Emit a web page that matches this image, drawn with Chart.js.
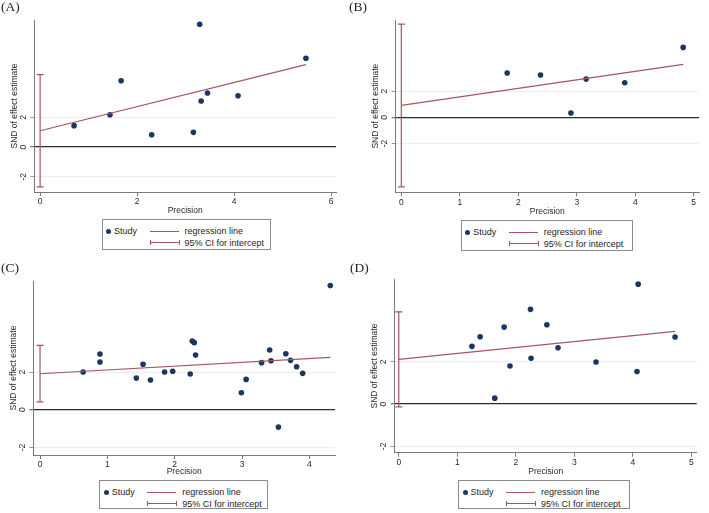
<!DOCTYPE html>
<html>
<head>
<meta charset="utf-8">
<script src="https://cdn.jsdelivr.net/npm/chart.js@4.4.0/dist/chart.umd.min.js"></script>
<style>
  body { margin: 0; background: #fff; width: 709px; height: 513px; position: relative; overflow: hidden;
         font-family: "Liberation Sans", Arial, sans-serif; }
  .panel { position: absolute; }
  .panel canvas { position: absolute; left: 0; top: 0; }
  .tag { position: absolute; font-family: "Liberation Serif", "Times New Roman", serif; font-size: 13.5px;
         color: #222; line-height: 14px; }
  .legend { position: absolute; box-sizing: border-box; border: 1px solid #8c8c8c; background: #fff;
            font-size: 9px; color: #1e1e1e; }
  .legend span { position: absolute; white-space: nowrap; line-height: 10px; }
  .legend .dot { position: absolute; width: 5px; height: 5px; border-radius: 50%; background: #1c3563; }
  .legend .ln { position: absolute; height: 0; border-top: 1.2px solid #a65563; }
  .legend .ci { position: absolute; height: 5px; box-sizing: border-box; border-left: 1.2px solid #a65563;
                border-right: 1.2px solid #a65563; }
  .legend .ci::after { content: ""; position: absolute; left: 0; right: 0; top: 2px; border-top: 1.2px solid #a65563; }
</style>
</head>
<body>
<script>
const yTicks = [-2, 0, 2];

// (A)
const precisionA = [0.70, 1.44, 1.67, 2.30, 3.16, 3.29, 3.32, 3.45, 4.08, 5.48];
const sndA = [1.44, 2.18, 4.47, 0.83, 0.99, 8.27, 3.10, 3.64, 3.46, 5.98];
const regXA = [0, 5.48];
const regYA = [1.10, 5.55];
const ciA = [-2.68, 4.88];
const xTicksA = [0, 2, 4, 6];

// (B)
const precisionB = [1.81, 2.38, 2.90, 3.16, 3.82, 4.82];
const sndB = [3.38, 3.23, 0.33, 2.92, 2.64, 5.34];
const regXB = [0, 4.82];
const regYB = [0.92, 4.05];
const ciB = [-5.30, 7.12];
const xTicksB = [0, 1, 2, 3, 4, 5];

// (C)
const precisionC = [0.64, 0.89, 0.89, 1.43, 1.53, 1.64, 1.85, 1.97, 2.23, 2.26, 2.29, 2.31,
                    2.99, 3.06, 3.29, 3.41, 3.43, 3.54, 3.65, 3.72, 3.81, 3.90, 4.31];
const sndC = [2.00, 2.96, 2.53, 1.68, 2.41, 1.58, 2.00, 2.04, 1.90, 3.65, 3.56, 2.90,
              0.90, 1.61, 2.50, 3.17, 2.60, -0.92, 2.97, 2.62, 2.28, 1.93, 6.59];
const regXC = [0, 4.31];
const regYC = [1.91, 2.78];
const ciC = [0.42, 3.42];
const xTicksC = [0, 1, 2, 3, 4];

// (D)
const precisionD = [1.25, 1.39, 1.64, 1.80, 1.90, 2.25, 2.26, 2.53, 2.72, 3.37, 4.07, 4.09, 4.72];
const sndD = [2.73, 3.18, 0.28, 3.64, 1.80, 4.48, 2.17, 3.75, 2.66, 1.99, 1.54, 5.67, 3.17];
const regXD = [0, 4.72];
const regYD = [2.11, 3.44];
const ciD = [-0.13, 4.36];
const xTicksD = [0, 1, 2, 3, 4, 5];

const legendLabels = ['Study', 'regression line', '95% CI for intercept'];

// --- layout of the 2x2 grid (panel box, plot area, tag and legend box) ---
const panels = [
  { tag: '(A)', x: precisionA, y: sndA, regX: regXA, regY: regYA, ci: ciA, xTicks: xTicksA,
    xRange: [-0.12, 6.1], yRange: [-3.03, 8.56],
    left: 0, top: 0, w: 354, h: 216, plot: { l: 34.3, r: 336, t: 20, b: 192 },
    tagPos: [1, 0], legend: { l: 101.5, t: 219, w: 169, h: 31 } },
  { tag: '(B)', x: precisionB, y: sndB, regX: regXB, regY: regYB, ci: ciB, xTicks: xTicksB,
    xRange: [-0.096, 5.09], yRange: [-5.72, 7.43],
    left: 354, top: 0, w: 355, h: 217, plot: { l: 41.7, r: 345, t: 20, b: 192.3 },
    tagPos: [-5, 0], legend: { l: 106.7, t: 220, w: 172.6, h: 30.7 } },
  { tag: '(C)', x: precisionC, y: sndC, regX: regXC, regY: regYC, ci: ciC, xTicks: xTicksC,
    xRange: [-0.1, 4.38], yRange: [-2.4, 6.83],
    left: 0, top: 256, w: 354, h: 221, plot: { l: 33.3, r: 335, t: 25, b: 199 },
    tagPos: [1, 4.5], legend: { l: 99.3, t: 224, w: 169, h: 29.3 } },
  { tag: '(D)', x: precisionD, y: sndD, regX: regXD, regY: regYD, ci: ciD, xTicks: xTicksD,
    xRange: [-0.07, 5.09], yRange: [-2.3, 5.9],
    left: 354, top: 256, w: 355, h: 221, plot: { l: 40.7, r: 342.7, t: 23.3, b: 196.7 },
    tagPos: [-4, 4.5], legend: { l: 104, t: 224, w: 172, h: 29.3 } }
];

const NAVY = '#1c3563';
const ROSE = '#a65563';
const AXIS = '#7a7a7a';
const FONT = '"Liberation Sans", Arial, sans-serif';
const titleFont = { family: FONT, size: 8.5, lineHeight: 1.2 };

Chart.defaults.font.family = FONT;
Chart.defaults.color = '#2a2a2a';

function buildLegend(wrap, box) {
    const lg = document.createElement('div');
    lg.className = 'legend';
    lg.style.left = box.l + 'px';
    lg.style.top = box.t + 'px';
    lg.style.width = box.w + 'px';
    lg.style.height = box.h + 'px';
    lg.innerHTML =
        '<div class="dot" style="left:3.5px;top:8.5px"></div>' +
        '<span style="left:11.5px;top:6px">' + legendLabels[0] + '</span>' +
        '<div class="ln" style="left:47px;top:10.5px;width:29px"></div>' +
        '<span style="left:82px;top:6px">' + legendLabels[1] + '</span>' +
        '<div class="ci" style="left:47px;top:20px;width:30px"></div>' +
        '<span style="left:82px;top:18px">' + legendLabels[2] + '</span>';
    wrap.appendChild(lg);
}

function initPanel(p) {
    const wrap = document.createElement('div');
    wrap.className = 'panel';
    wrap.style.left = p.left + 'px';
    wrap.style.top = p.top + 'px';
    wrap.style.width = p.w + 'px';
    wrap.style.height = '257px';
    document.body.appendChild(wrap);

    const canvas = document.createElement('canvas');
    canvas.width = p.w;
    canvas.height = p.h;
    wrap.appendChild(canvas);

    const tag = document.createElement('div');
    tag.className = 'tag';
    tag.textContent = p.tag;
    tag.style.left = p.tagPos[0] + 'px';
    tag.style.top = p.tagPos[1] + 'px';
    wrap.appendChild(tag);

    buildLegend(wrap, p.legend);

    const halfLine = titleFont.size * titleFont.lineHeight / 2;

    new Chart(canvas, {
        type: 'scatter',
        data: {
            datasets: [
                {
                    // 95% CI for intercept, drawn at precision 0 with flat caps
                    type: 'line',
                    data: p.ci.map(v => ({ x: 0, y: v })),
                    borderColor: ROSE,
                    borderWidth: 1.2,
                    pointStyle: 'line',
                    pointRadius: 3.5,
                    pointBorderColor: ROSE,
                    pointBorderWidth: 1.2,
                    fill: false
                },
                {
                    type: 'line',
                    data: p.regX.map((v, i) => ({ x: v, y: p.regY[i] })),
                    borderColor: ROSE,
                    borderWidth: 1.2,
                    pointRadius: 0,
                    fill: false
                },
                {
                    data: p.x.map((v, i) => ({ x: v, y: p.y[i] })),
                    backgroundColor: NAVY,
                    borderColor: NAVY,
                    pointRadius: 2.8,
                    borderWidth: 0
                }
            ]
        },
        options: {
            responsive: false,
            animation: false,
            events: [],
            layout: { padding: { top: p.plot.t, right: p.w - p.plot.r, left: 0, bottom: 0 } },
            plugins: { legend: { display: false }, tooltip: { enabled: false } },
            scales: {
                x: {
                    type: 'linear',
                    min: p.xRange[0],
                    max: p.xRange[1],
                    afterBuildTicks: s => { s.ticks = p.xTicks.map(v => ({ value: v })); },
                    afterFit: s => { s.height = p.h - p.plot.b; },
                    ticks: { font: { size: 8.5 }, padding: 1, maxRotation: 0, callback: v => String(v) },
                    grid: { drawOnChartArea: false, drawTicks: true, tickLength: 4, tickColor: AXIS },
                    border: { display: true, color: AXIS, width: 1 },
                    title: { display: true, text: 'Precision', font: titleFont, padding: { top: 0, bottom: 0 } }
                },
                y: {
                    type: 'linear',
                    min: p.yRange[0],
                    max: p.yRange[1],
                    afterBuildTicks: s => { s.ticks = yTicks.map(v => ({ value: v })); },
                    afterFit: s => { s.width = p.plot.l; },
                    ticks: {
                        font: { size: 8.5 }, padding: 3, minRotation: 90, maxRotation: 90,
                        crossAlign: 'center', callback: v => String(v)
                    },
                    grid: {
                        drawTicks: true,
                        tickLength: 4,
                        tickColor: AXIS,
                        color: c => (c.tick && c.tick.value === 0) ? '#2b2b2b' : '#e4e9ef',
                        lineWidth: c => (c.tick && c.tick.value === 0) ? 1.3 : 0.8
                    },
                    border: { display: true, color: AXIS, width: 1 },
                    title: {
                        display: true, text: 'SND of effect estimate', font: titleFont,
                        padding: { top: p.plot.l - 20 - halfLine, bottom: 0 }
                    }
                }
            }
        }
    });
}

panels.forEach(initPanel);
</script>
</body>
</html>
